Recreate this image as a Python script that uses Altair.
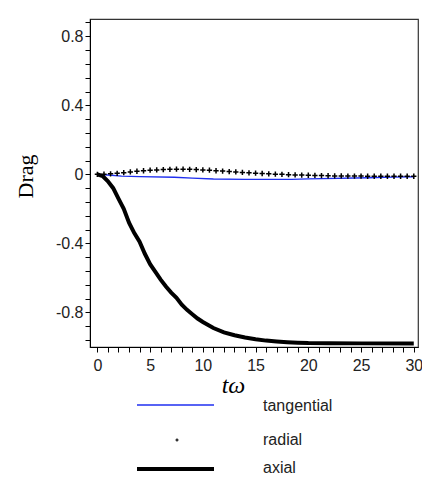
import altair as alt
import pandas as pd

SERIES = ["tangential", "radial", "axial"]

# tangential drag (blue line)
tan_t = [0, 1, 2.3, 4, 7.3, 9, 11, 14, 18.4, 20, 25.7, 28, 30]
tan_v = [0, -0.004, -0.01, -0.013, -0.017, -0.022, -0.027, -0.029, -0.029, -0.026, -0.02, -0.016, -0.014]

# radial drag (point markers)
rad_t = [0, 0.625, 1.25, 1.875, 2.5, 3.125, 3.75, 4.375, 5.0, 5.625, 6.25, 6.875,
         7.5, 8.125, 8.75, 9.375, 10.0, 10.625, 11.25, 11.875, 12.5, 13.125, 13.75,
         14.375, 15.0, 15.625, 16.25, 16.875, 17.5, 18.125, 18.75, 19.375, 20.0,
         20.625, 21.25, 21.875, 22.5, 23.125, 23.75, 24.375, 25.0, 25.625, 26.25,
         26.875, 27.5, 28.125, 28.75, 29.375, 30.0]
rad_v = [0, 0.001, 0.003, 0.006, 0.010, 0.014, 0.018, 0.021, 0.024, 0.026, 0.028, 0.029,
         0.030, 0.030, 0.029, 0.028, 0.026, 0.024, 0.021, 0.019, 0.016, 0.014, 0.011,
         0.009, 0.007, 0.005, 0.003, 0.001, 0.000, -0.002, -0.003, -0.004, -0.005,
         -0.006, -0.007, -0.008, -0.009, -0.009, -0.010, -0.010, -0.010, -0.011, -0.011,
         -0.011, -0.011, -0.011, -0.011, -0.011, -0.011]

# axial drag (thick black line)
ax_t = [0, 0.5, 1, 1.5, 2, 2.5, 3, 3.5, 4, 4.5, 5, 5.5, 6, 6.5, 7, 7.5, 8, 8.5, 9, 9.5,
        10, 11, 12, 13, 14, 15, 16, 17, 18, 19, 20, 22, 25, 30]
ax_v = [0, -0.01, -0.04, -0.08, -0.14, -0.2, -0.28, -0.34, -0.39, -0.46, -0.52, -0.565,
        -0.61, -0.65, -0.685, -0.715, -0.755, -0.785, -0.81, -0.835, -0.855, -0.89,
        -0.915, -0.932, -0.945, -0.955, -0.963, -0.968, -0.972, -0.975, -0.977, -0.978,
        -0.979, -0.979]

X_TICKS = list(range(0, 31))
Y_TICKS = [round(-0.96 + 0.08 * i, 2) for i in range(24)]

PLUS = "M-1,0L1,0M0,-1L0,1"
SANS = "Liberation Sans"
SERIF = "Liberation Serif"

xscale = alt.Scale(domain=[-0.7, 30.4], nice=False, zero=False)
yscale = alt.Scale(domain=[-1.0, 0.9], nice=False, zero=False)

xaxis = alt.Axis(
    values=X_TICKS, title="tω", grid=False,
    labelExpr="datum.value % 5 == 0 ? datum.label : ''",
    labelOverlap=False, labelFont=SANS, labelFontSize=16, labelColor="#222",
    labelPadding=5, tickSize=5, tickColor="black", domainColor="black",
    titleFont=SERIF, titleFontStyle="italic", titleFontSize=24, titleFontWeight="normal",
    titleX=143, titleY=45, titleAlign="center", titleBaseline="alphabetic",
    titleColor="black",
)
yaxis = alt.Axis(
    values=Y_TICKS, title="Drag", grid=False,
    labelExpr="abs(round(datum.value*100)) % 40 == 0 ? replace(format(datum.value, '.1~f'), '−', '-') : ''",
    labelOverlap=False, labelFont=SANS, labelFontSize=16, labelColor="#222",
    labelPadding=2, tickSize=5, tickColor="black", domainColor="black",
    titleFont=SERIF, titleFontSize=22, titleFontWeight="normal",
    titleX=-65, titleY=157, titleAlign="center", titleBaseline="middle",
    titleColor="black", titleAngle=-90,
)

X = alt.X("t:Q", scale=xscale, axis=xaxis)
Y = alt.Y("v:Q", scale=yscale, axis=yaxis)

tan_df = pd.DataFrame({"t": tan_t, "v": tan_v})
rad_df = pd.DataFrame({"t": rad_t, "v": rad_v})
ax_df = pd.DataFrame({"t": ax_t, "v": ax_v})

tan_line = alt.Chart(tan_df).mark_line(color="#1f2ff0", strokeWidth=1.4, clip=True).encode(x=X, y=Y)
rad_pts = alt.Chart(rad_df).mark_point(
    shape=PLUS, filled=False, color="black", strokeWidth=1.5, size=28, opacity=1, clip=True
).encode(x=X, y=Y)
ax_line = alt.Chart(ax_df).mark_line(color="black", strokeWidth=4, clip=True).encode(x=X, y=Y)

one = pd.DataFrame({"k": [0]})
leg_tan = alt.Chart(one).mark_rule(color="#1f2ff0", strokeWidth=1.4).encode(
    x=alt.value(47), x2=alt.value(124), y=alt.value(386))
leg_rad = alt.Chart(one).mark_point(
    shape=PLUS, filled=False, color="black", strokeWidth=1.2, size=10, opacity=1
).encode(x=alt.value(87), y=alt.value(421))
leg_ax = alt.Chart(one).mark_rule(color="black", strokeWidth=4).encode(
    x=alt.value(47), x2=alt.value(124), y=alt.value(450))

def leg_text(label, y):
    return alt.Chart(one).mark_text(
        align="left", baseline="middle", font=SANS, fontSize=16, color="#222"
    ).encode(x=alt.value(173), y=alt.value(y), text=alt.value(label))

chart = alt.layer(
    tan_line, rad_pts, ax_line,
    leg_tan, leg_rad, leg_ax,
    leg_text(SERIES[0], 387), leg_text(SERIES[1], 421), leg_text(SERIES[2], 449),
).properties(
    width=328, height=328,
    autosize=alt.AutoSizeParams(type="none"),
    padding={"left": 90, "top": 19, "right": 4, "bottom": 130},
    background="white",
).configure_view(stroke="#333", strokeWidth=1.2)

chart.save("out.html", embed_options={"renderer": "svg", "actions": False})
